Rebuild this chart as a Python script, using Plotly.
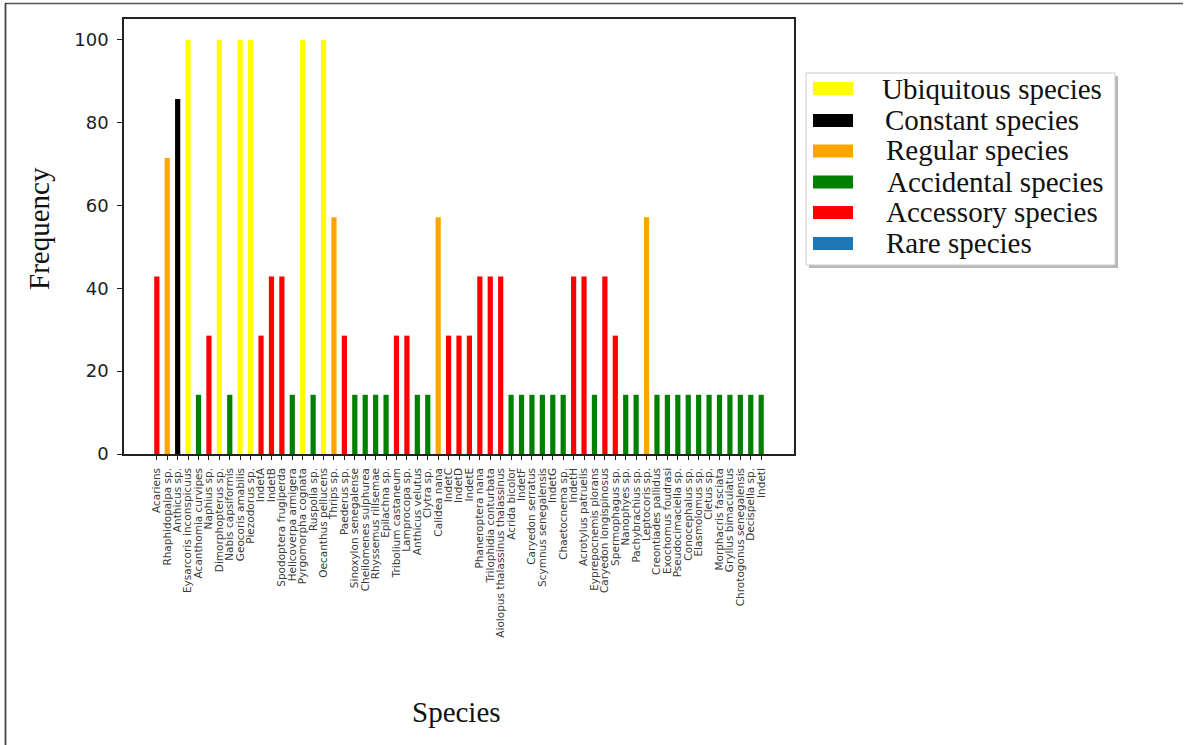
import plotly.graph_objects as go

# Species sampled, their occurrence frequency (%) and constancy class
species = [
    "Acariens", "Rhaphidopalpa sp.", "Anthicus sp.", "Eysarcoris inconspicuus",
    "Acanthomia curvipes", "Naphius sp.", "Dimorphopterus sp.", "Nabis capsiformis",
    "Geocoris amabilis", "Piezodorus sp.", "IndetA", "IndetB",
    "Spodoptera frugiperda", "Helicoverpa armigera", "Pyrgomorpha cognata",
    "Ruspolia sp.", "Oecanthus pellucens", "Thrips sp.", "Paederus sp.",
    "Sinoxylon senegalense", "Cheilomenes sulphurea", "Rhyssemus rillsemae",
    "Epilachna sp.", "Tribolium castaneum", "Lamprocopa sp.", "Anthicus velutus",
    "Clytra sp.", "Calidea nana", "IndetC", "IndetD", "IndetE",
    "Phaneroptera nana", "Trilophidia conturbata", "Aiolopus thalassinus thalassinus",
    "Acrida bicolor", "IndetF", "Caryedon serratus", "Scymnus senegalensis",
    "IndetG", "Chaetocnema sp.", "IndetH", "Acrotylus patruelis",
    "Eyprepocnemis plorans", "Caryedon longispinosus", "Spermophagus sp.",
    "Nanophyes sp.", "Pachybrachius sp.", "Leptocoris sp.", "Creontiades pallidus",
    "Exochomus foudrasi", "Pseudocimaciella sp.", "Conocephalus sp.",
    "Elasmolomus sp.", "Cletus sp.", "Morphacris fasciata", "Gryllus bimaculatus",
    "Chrotogonus senegalensis", "Decispella sp.", "IndetI",
]

frequency = [
    42.86, 71.43, 85.71, 100.0,
    14.29, 28.57, 100.0, 14.29,
    100.0, 100.0, 28.57, 42.86,
    42.86, 14.29, 100.0,
    14.29, 100.0, 57.14, 28.57,
    14.29, 14.29, 14.29,
    14.29, 28.57, 28.57, 14.29,
    14.29, 57.14, 28.57, 28.57, 28.57,
    42.86, 42.86, 42.86,
    14.29, 14.29, 14.29, 14.29,
    14.29, 14.29, 42.86, 42.86,
    14.29, 42.86, 28.57,
    14.29, 14.29, 57.14, 14.29,
    14.29, 14.29, 14.29,
    14.29, 14.29, 14.29, 14.29,
    14.29, 14.29, 14.29,
]

status = [
    "Accessory", "Regular", "Constant", "Ubiquitous",
    "Accidental", "Accessory", "Ubiquitous", "Accidental",
    "Ubiquitous", "Ubiquitous", "Accessory", "Accessory",
    "Accessory", "Accidental", "Ubiquitous",
    "Accidental", "Ubiquitous", "Regular", "Accessory",
    "Accidental", "Accidental", "Accidental",
    "Accidental", "Accessory", "Accessory", "Accidental",
    "Accidental", "Regular", "Accessory", "Accessory", "Accessory",
    "Accessory", "Accessory", "Accessory",
    "Accidental", "Accidental", "Accidental", "Accidental",
    "Accidental", "Accidental", "Accessory", "Accessory",
    "Accidental", "Accessory", "Accessory",
    "Accidental", "Accidental", "Regular", "Accidental",
    "Accidental", "Accidental", "Accidental",
    "Accidental", "Accidental", "Accidental", "Accidental",
    "Accidental", "Accidental", "Accidental",
]

classes = ["Ubiquitous", "Constant", "Regular", "Accidental", "Accessory", "Rare"]
class_labels = ["Ubiquitous species", "Constant species", "Regular species",
                "Accidental species", "Accessory species", "Rare species"]
class_colors = ["#FFFF00", "#000000", "#FFA500", "#008000", "#FF0000", "#1F77B4"]

# Figure geometry (pixels)
W, H = 1186, 745
L, R, T, B = 124, 794, 19, 454


def px_x(p):
    return (p - L) / (R - L)


def px_y(p):
    return (B - p) / (B - T)


fig = go.Figure()
for cls, label, color in zip(classes, class_labels, class_colors):
    xs = [s for s, c in zip(species, status) if c == cls]
    ys = [f for f, c in zip(frequency, status) if c == cls]
    fig.add_trace(go.Bar(
        x=xs, y=ys, name=label, width=0.5,
        marker=dict(color=color, line=dict(width=0)),
        showlegend=False,
    ))

shapes = []
annotations = []

# Outer frame lines (top and left)
shapes.append(dict(type="line", xref="paper", yref="paper",
                   x0=px_x(5), x1=px_x(1183), y0=px_y(3.5), y1=px_y(3.5),
                   line=dict(color="#555555", width=1.5)))
shapes.append(dict(type="line", xref="paper", yref="paper",
                   x0=px_x(5.5), x1=px_x(5.5), y0=px_y(3), y1=px_y(745),
                   line=dict(color="#444444", width=1.8)))

# Legend box with drop shadow
shapes.append(dict(type="rect", xref="paper", yref="paper",
                   x0=px_x(809), x1=px_x(1118), y0=px_y(268), y1=px_y(76),
                   line=dict(width=0), fillcolor="#b8b8b8"))
shapes.append(dict(type="rect", xref="paper", yref="paper",
                   x0=px_x(806), x1=px_x(1115), y0=px_y(265), y1=px_y(73),
                   line=dict(color="#cccccc", width=1), fillcolor="white"))

patch_y = [88.5, 120.5, 151, 182, 212.5, 243.5]
text_y = [89, 120, 150, 182, 212, 243]
text_x = [880, 883, 884, 885, 884, 884]
for label, color, py, ty, tx in zip(class_labels, class_colors, patch_y, text_y, text_x):
    shapes.append(dict(type="rect", xref="paper", yref="paper",
                       x0=px_x(813), x1=px_x(853), y0=px_y(py + 6.5), y1=px_y(py - 6.5),
                       line=dict(width=0), fillcolor=color))
    annotations.append(dict(xref="paper", yref="paper", x=px_x(tx), y=px_y(ty),
                            xanchor="left", yanchor="middle", showarrow=False,
                            text=label,
                            font=dict(family="Liberation Serif", size=29, color="#111111")))

# Axis titles
annotations.append(dict(xref="paper", yref="paper", x=px_x(39), y=px_y(229),
                        xanchor="center", yanchor="middle", showarrow=False,
                        text="Frequency", textangle=-90,
                        font=dict(family="Liberation Serif", size=29, color="#111111")))
annotations.append(dict(xref="paper", yref="paper", x=px_x(456), y=px_y(712),
                        xanchor="center", yanchor="middle", showarrow=False,
                        text="Species",
                        font=dict(family="Liberation Serif", size=29, color="#111111")))

fig.update_layout(
    width=W, height=H,
    margin=dict(l=L, r=W - R, t=T, b=H - B, pad=0),
    paper_bgcolor="white", plot_bgcolor="white",
    barmode="overlay",
    showlegend=False,
    shapes=shapes,
    annotations=annotations,
    xaxis=dict(
        type="category", categoryorder="array", categoryarray=species,
        range=[-3.15, 58 + 3.15],
        tickmode="linear", tick0=0, dtick=1,
        showline=True, linecolor="#222222", linewidth=1.5, mirror=True,
        ticks="outside", ticklen=4, tickwidth=1, tickcolor="#222222",
        tickangle=-90, ticklabelstandoff=4,
        tickfont=dict(family="DejaVu Sans", size=10.5, color="#3a3a3a"),
        showgrid=False, zeroline=False,
    ),
    yaxis=dict(
        range=[0, 105],
        tickmode="array", tickvals=[0, 20, 40, 60, 80, 100],
        showline=True, linecolor="#222222", linewidth=1.5, mirror=True,
        ticks="outside", ticklen=5, tickwidth=1, tickcolor="#222222",
        ticklabelstandoff=5,
        tickfont=dict(family="DejaVu Sans", size=18, color="#222222"),
        showgrid=False, zeroline=False,
    ),
)

fig.write_html("out.html")
